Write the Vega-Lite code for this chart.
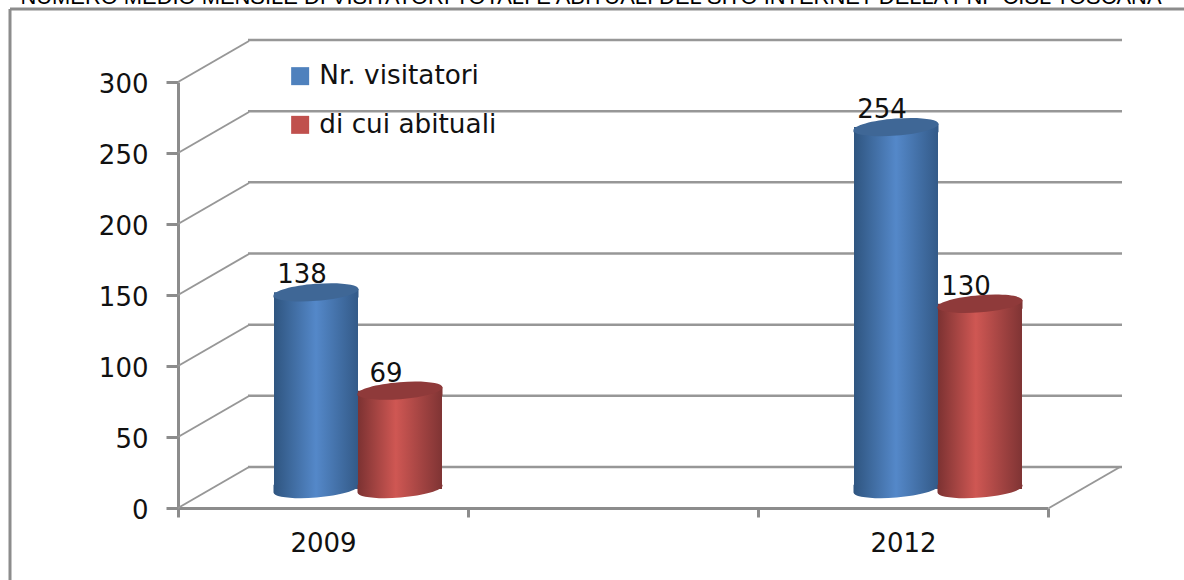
{
"$schema":"https://vega.github.io/schema/vega-lite/v6.json",
"width":1184,"height":580,"autosize":{"type":"none"},"padding":0,"background":"white",
"config":{"view":{"stroke":null},"font":"DejaVu Sans"},
"datasets":{
"bars":[
{"year":"2009","series":"Nr. visitatori","value":138},
{"year":"2009","series":"di cui abituali","value":69},
{"year":"2012","series":"Nr. visitatori","value":254},
{"year":"2012","series":"di cui abituali","value":130}],
"heading":[{"label":"NUMERO MEDIO MENSILE DI VISITATORI TOTALI E ABITUALI DEL SITO INTERNET DELLA FNP CISL TOSCANA","pos":0}],
"frame":[{"a":0,"b":1}],
"grid":[{"v":0},{"v":50},{"v":100},{"v":150},{"v":200},{"v":250},{"v":300}],
"slants":[{"v":0,"side":0},{"v":50,"side":0},{"v":100,"side":0},{"v":150,"side":0},{"v":200,"side":0},{"v":250,"side":0},{"v":300,"side":0},{"v":0,"side":1}]
},
"resolve":{"scale":{"x":"independent","y":"independent"}},
"layer":[
{"data":{"name":"heading"},"mark":{"type":"text","font":"Liberation Sans","fontSize":21.9,"color":"#000000","align":"center","baseline":"alphabetic"},
 "encoding":{"x":{"field":"pos","type":"quantitative","axis":null,"scale":{"domain":[0,1],"range":[591,1184]}},
 "y":{"field":"pos","type":"quantitative","axis":null,"scale":{"domain":[0,1],"range":[4,580]}},
 "text":{"field":"label","type":"nominal"}}},
{"data":{"name":"frame"},"mark":{"type":"rule","stroke":"#8c8c8c","strokeWidth":3},
 "encoding":{"x":{"field":"a","type":"quantitative","axis":null,"scale":{"domain":[0,1],"range":[10,1184]}},"x2":{"field":"b"},
 "y":{"field":"a","type":"quantitative","axis":null,"scale":{"domain":[0,1],"range":[9,580]}}}},
{"data":{"name":"frame"},"mark":{"type":"rule","stroke":"#8c8c8c","strokeWidth":3},
 "encoding":{"x":{"field":"a","type":"quantitative","axis":null,"scale":{"domain":[0,1],"range":[10,1184]}},
 "y":{"field":"a","type":"quantitative","axis":null,"scale":{"domain":[0,1],"range":[9,580]}},"y2":{"field":"b"}}},
{"data":{"name":"grid"},"mark":{"type":"rule","stroke":"#979797","strokeWidth":2.5},
 "encoding":{"x":{"datum":0,"type":"quantitative","axis":null,"scale":{"domain":[0,1],"range":[248,1122]}},"x2":{"datum":1},
 "y":{"field":"v","type":"quantitative","axis":null,"scale":{"domain":[0,300],"range":[467,40]}}}},
{"data":{"name":"slants"},"mark":{"type":"rule","stroke":"#979797","strokeWidth":2,"x2Offset":71,"y2Offset":-41},
 "encoding":{"x":{"field":"side","type":"quantitative","axis":null,"scale":{"domain":[0,1],"range":[178,1049]}},"x2":{"field":"side"},
 "y":{"field":"v","type":"quantitative","scale":{"domain":[0,300],"range":[508,82]},
  "axis":{"orient":"left","offset":-178,"title":null,"values":[0,50,100,150,200,250,300],"grid":false,"domainColor":"#8c8c8c","domainWidth":3,"tickColor":"#8c8c8c","tickWidth":3,"tickSize":12,"labelFontSize":26,"labelColor":"#111111","labelPadding":18,"labelFont":"DejaVu Sans","labelOffset":2}},"y2":{"field":"v"}}},
{"data":{"name":"bars"},"mark":{"type":"bar","opacity":0},
 "encoding":{
 "x":{"field":"year","type":"nominal","scale":{"domain":["2009"," ","2012"],"range":[178,1048],"paddingInner":0,"paddingOuter":0},
  "axis":{"orient":"bottom","offset":-72,"title":null,"labelAngle":0,"tickBand":"extent","domainColor":"#8c8c8c","domainWidth":3,"tickColor":"#8c8c8c","tickWidth":3,"tickSize":9,"labelFontSize":26,"labelColor":"#111111","labelPadding":13,"labelFont":"DejaVu Sans","grid":false}},
 "xOffset":{"field":"series","scale":{"domain":["Nr. visitatori","di cui abituali"],"range":[96,264],"paddingInner":0,"paddingOuter":0}},
 "y":{"field":"value","type":"quantitative","axis":null,"scale":{"domain":[0,300],"range":[489,61.5]}},
 "color":{"field":"series","type":"nominal","scale":{"domain":["Nr. visitatori","di cui abituali"],"range":["#4f81bd","#c0504d"]},
  "legend":{"orient":"none","legendX":287,"legendY":63,"title":null,"symbolType":"square","symbolSize":324,"symbolOpacity":1,"labelFontSize":26.3,"labelColor":"#111111","labelFont":"DejaVu Sans","rowPadding":21.7,"labelOffset":6,"labelLimit":300}}}},
{"data":{"name":"bars"},"transform":[{"filter":"datum.series==='Nr. visitatori'"}],
 "layer":[
 {"mark":{"type":"point","filled":true,"opacity":1,"size":7225,"shape":"M-1,-0.1L-1,0.08A1.003,0.2,-4.6,0,0,1,-0.08L1,-0.1Z","fill":{"gradient":"linear","x1":0,"y1":0,"x2":1,"y2":0,"stops":[{"offset":0,"color":"#2f5580"},{"offset":0.5,"color":"#5488c9"},{"offset":1,"color":"#335a88"}]}},
  "encoding":{"y":{"datum":0,"type":"quantitative","axis":null,"scale":{"domain":[0,300],"range":[489,61.5]}}}},
 {"mark":{"type":"bar","fill":{"gradient":"linear","x1":0,"y1":0,"x2":1,"y2":0,"stops":[{"offset":0,"color":"#2f5580"},{"offset":0.5,"color":"#5488c9"},{"offset":1,"color":"#335a88"}]}},
  "encoding":{"y":{"field":"value","type":"quantitative","axis":null,"scale":{"domain":[0,300],"range":[489,61.5]}}}},
 {"mark":{"type":"point","filled":true,"opacity":1,"size":7225,"shape":"M-1,0.08L1,-0.08L1,0.12L-1,0.12Z","fill":{"gradient":"linear","x1":0,"y1":0,"x2":1,"y2":0,"stops":[{"offset":0,"color":"#2f5580"},{"offset":0.5,"color":"#5488c9"},{"offset":1,"color":"#335a88"}]}},
  "encoding":{"y":{"field":"value","type":"quantitative","axis":null,"scale":{"domain":[0,300],"range":[489,61.5]}}}},
 {"mark":{"type":"point","filled":true,"opacity":1,"size":7225,"fill":"#3f6796","shape":"M-1,0.08A1.003,0.2,-4.6,1,1,1,-0.08A1.003,0.2,-4.6,1,1,-1,0.08Z"},
  "encoding":{"y":{"field":"value","type":"quantitative","axis":null,"scale":{"domain":[0,300],"range":[489,61.5]}}}}],
 "encoding":{"x":{"field":"year","type":"nominal","axis":null,"scale":{"domain":["2009"," ","2012"],"range":[178,1048],"paddingInner":0,"paddingOuter":0}},
 "xOffset":{"field":"series","scale":{"domain":["Nr. visitatori","di cui abituali"],"range":[96,264],"paddingInner":0,"paddingOuter":0}}}},
{"data":{"name":"bars"},"transform":[{"filter":"datum.series==='di cui abituali'"}],
 "layer":[
 {"mark":{"type":"point","filled":true,"opacity":1,"size":7225,"shape":"M-1,-0.1L-1,0.08A1.003,0.2,-4.6,0,0,1,-0.08L1,-0.1Z","fill":{"gradient":"linear","x1":0,"y1":0,"x2":1,"y2":0,"stops":[{"offset":0,"color":"#7c3232"},{"offset":0.45,"color":"#cf5753"},{"offset":1,"color":"#7f3434"}]}},
  "encoding":{"y":{"datum":0,"type":"quantitative","axis":null,"scale":{"domain":[0,300],"range":[489,61.5]}}}},
 {"mark":{"type":"bar","fill":{"gradient":"linear","x1":0,"y1":0,"x2":1,"y2":0,"stops":[{"offset":0,"color":"#7c3232"},{"offset":0.45,"color":"#cf5753"},{"offset":1,"color":"#7f3434"}]}},
  "encoding":{"y":{"field":"value","type":"quantitative","axis":null,"scale":{"domain":[0,300],"range":[489,61.5]}}}},
 {"mark":{"type":"point","filled":true,"opacity":1,"size":7225,"shape":"M-1,0.08L1,-0.08L1,0.12L-1,0.12Z","fill":{"gradient":"linear","x1":0,"y1":0,"x2":1,"y2":0,"stops":[{"offset":0,"color":"#7c3232"},{"offset":0.45,"color":"#cf5753"},{"offset":1,"color":"#7f3434"}]}},
  "encoding":{"y":{"field":"value","type":"quantitative","axis":null,"scale":{"domain":[0,300],"range":[489,61.5]}}}},
 {"mark":{"type":"point","filled":true,"opacity":1,"size":7225,"fill":"#8f3a3a","shape":"M-1,0.08A1.003,0.2,-4.6,1,1,1,-0.08A1.003,0.2,-4.6,1,1,-1,0.08Z"},
  "encoding":{"y":{"field":"value","type":"quantitative","axis":null,"scale":{"domain":[0,300],"range":[489,61.5]}}}}],
 "encoding":{"x":{"field":"year","type":"nominal","axis":null,"scale":{"domain":["2009"," ","2012"],"range":[178,1048],"paddingInner":0,"paddingOuter":0}},
 "xOffset":{"field":"series","scale":{"domain":["Nr. visitatori","di cui abituali"],"range":[96,264],"paddingInner":0,"paddingOuter":0}}}},
{"data":{"name":"bars"},"mark":{"type":"text","fontSize":26,"font":"DejaVu Sans","color":"#111111","dx":-14,"dy":-17,"baseline":"middle"},
 "encoding":{"x":{"field":"year","type":"nominal","axis":null,"scale":{"domain":["2009"," ","2012"],"range":[178,1048],"paddingInner":0,"paddingOuter":0}},
 "xOffset":{"field":"series","scale":{"domain":["Nr. visitatori","di cui abituali"],"range":[96,264],"paddingInner":0,"paddingOuter":0}},
 "y":{"field":"value","type":"quantitative","axis":null,"scale":{"domain":[0,300],"range":[489,61.5]}},
 "text":{"field":"value","type":"quantitative"}}}
]
}
